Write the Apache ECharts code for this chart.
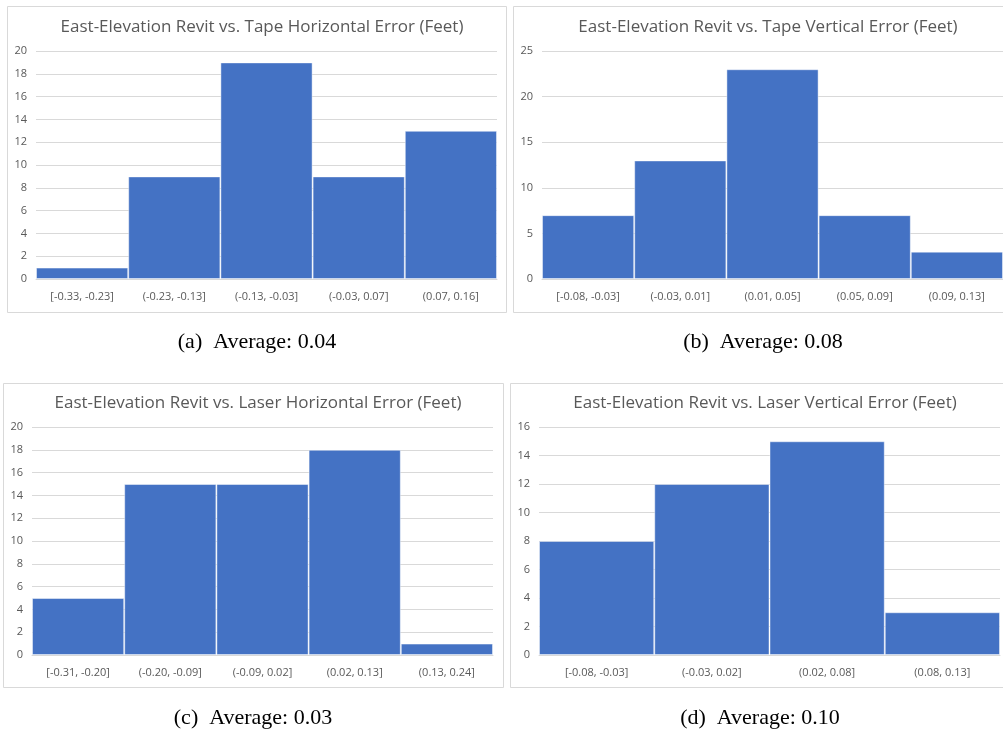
<!DOCTYPE html>
<html>
<head>
<meta charset="utf-8">
<script src="https://cdn.jsdelivr.net/npm/echarts@6/dist/echarts.min.js"></script>
<style>
  html, body { margin: 0; padding: 0; background: #ffffff; }
  #chart { width: 1003px; height: 734px; }
</style>
</head>
<body>
<div id="chart"></div>
<script>
// Histogram bins and counts for each of the four error comparisons
const titles = [
  'East-Elevation Revit vs. Tape Horizontal Error (Feet)',
  'East-Elevation Revit vs. Tape Vertical Error (Feet)',
  'East-Elevation Revit vs. Laser Horizontal Error (Feet)',
  'East-Elevation Revit vs. Laser Vertical Error (Feet)'
];
const captions = ['(a)  Average: 0.04', '(b)  Average: 0.08', '(c)  Average: 0.03', '(d)  Average: 0.10'];

const binsTapeH = ['[-0.33, -0.23]', '(-0.23, -0.13]', '(-0.13, -0.03]', '(-0.03, 0.07]', '(0.07, 0.16]'];
const countsTapeH = [1, 9, 19, 9, 13];

const binsTapeV = ['[-0.08, -0.03]', '(-0.03, 0.01]', '(0.01, 0.05]', '(0.05, 0.09]', '(0.09, 0.13]'];
const countsTapeV = [7, 13, 23, 7, 3];

const binsLaserH = ['[-0.31, -0.20]', '(-0.20, -0.09]', '(-0.09, 0.02]', '(0.02, 0.13]', '(0.13, 0.24]'];
const countsLaserH = [5, 15, 15, 18, 1];

const binsLaserV = ['[-0.08, -0.03]', '(-0.03, 0.02]', '(0.02, 0.08]', '(0.08, 0.13]'];
const countsLaserV = [8, 12, 15, 3];

// y-axis ranges per panel
const yMax = [20, 25, 20, 16];
const yStep = [2, 5, 2, 2];

const panels = [
  { bins: binsTapeH, counts: countsTapeH },
  { bins: binsTapeV, counts: countsTapeV },
  { bins: binsLaserH, counts: countsLaserH },
  { bins: binsLaserV, counts: countsLaserV }
];

// layout of each panel: frame box, plot grid, title centre, caption centre
const layout = [
  { box: [7, 6, 499, 306],   grid: [36, 51, 461, 228],  titleX: 257, titleY: 14,  capX: 252, capY: 326 },
  { box: [513, 6, 500, 306], grid: [542, 51, 461, 228], titleX: 763, titleY: 14,  capX: 758, capY: 326 },
  { box: [3, 383, 500, 304], grid: [32, 427, 461, 228], titleX: 253, titleY: 390, capX: 248, capY: 702 },
  { box: [510, 383, 503, 304], grid: [539, 427, 461, 228], titleX: 760, titleY: 390, capX: 755, capY: 702 }
];

const textGray = '#595959';
const gridGray = '#D9D9D9';
const barBlue = '#4472C4';
const sansFont = '"Open Sans", "Noto Sans", sans-serif';
const serifFont = '"Liberation Serif", "DejaVu Serif", serif';

const option = {
  animation: false,
  backgroundColor: '#ffffff',
  title: [],
  grid: [],
  xAxis: [],
  yAxis: [],
  series: [],
  graphic: []
};

panels.forEach((p, i) => {
  const L = layout[i];
  option.graphic.push({
    type: 'rect',
    shape: { x: L.box[0] + 0.5, y: L.box[1] + 0.5, width: L.box[2], height: L.box[3] },
    style: { fill: 'none', stroke: gridGray, lineWidth: 1 },
    silent: true,
    z: 0
  });
  option.title.push({
    text: titles[i],
    left: L.titleX,
    top: L.titleY,
    textAlign: 'center',
    textStyle: { fontFamily: sansFont, fontSize: 17, fontWeight: 'normal', color: textGray }
  });
  option.title.push({
    text: captions[i],
    left: L.capX,
    top: L.capY,
    textAlign: 'center',
    textStyle: { fontFamily: serifFont, fontSize: 22, fontWeight: 'normal', color: '#000000' }
  });
  option.grid.push({
    left: L.grid[0], top: L.grid[1], width: L.grid[2], height: L.grid[3],
    containLabel: false
  });
  option.xAxis.push({
    type: 'category',
    gridIndex: i,
    data: p.bins,
    boundaryGap: true,
    axisLine: { show: true, lineStyle: { color: gridGray, width: 1 } },
    axisTick: { show: false },
    axisLabel: { color: textGray, fontFamily: sansFont, fontSize: 11, margin: 12, interval: 0 },
    splitLine: { show: false }
  });
  option.yAxis.push({
    type: 'value',
    gridIndex: i,
    min: 0,
    max: yMax[i],
    interval: yStep[i],
    axisLine: { show: false },
    axisTick: { show: false },
    axisLabel: { color: textGray, fontFamily: sansFont, fontSize: 11, margin: 9 },
    splitLine: { show: true, lineStyle: { color: gridGray, width: 1 } }
  });
  option.series.push({
    type: 'bar',
    xAxisIndex: i,
    yAxisIndex: i,
    data: p.counts,
    barWidth: '100%',
    barCategoryGap: '0%',
    itemStyle: { color: barBlue, borderColor: 'rgba(255,255,255,0.45)', borderWidth: 1 },
    silent: true
  });
});

const chart = echarts.init(document.getElementById('chart'), null, { renderer: 'canvas' });
chart.setOption(option);
</script>
</body>
</html>
